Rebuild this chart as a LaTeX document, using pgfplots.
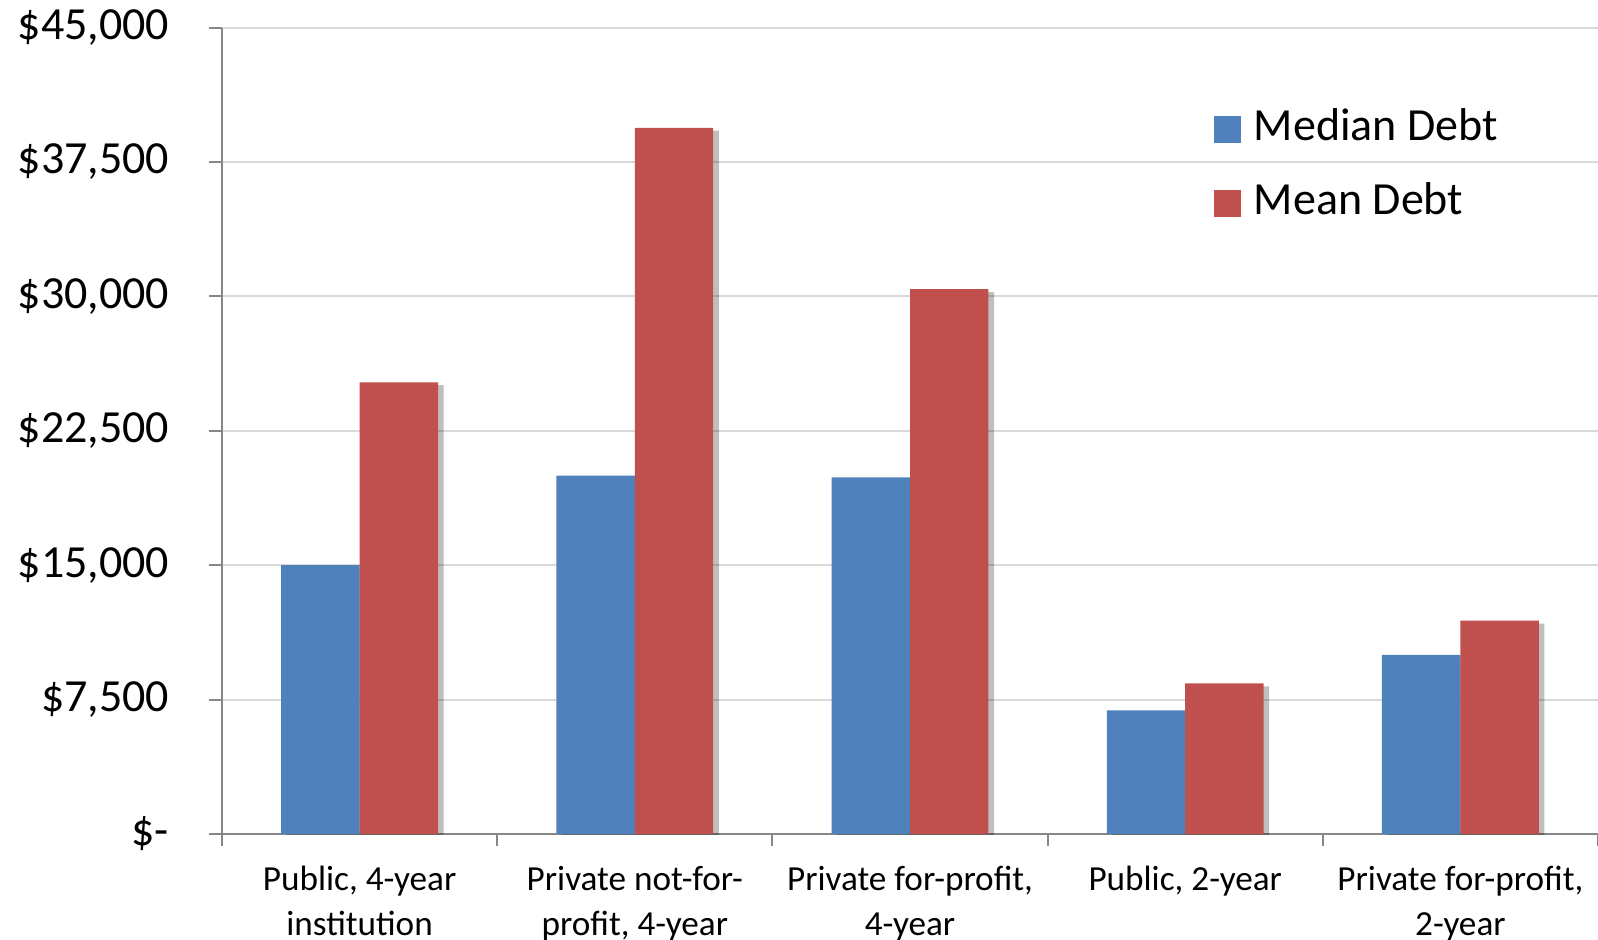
\documentclass[border=0pt]{standalone}
\usepackage{fontspec}
\setmainfont{Carlito}
\usepackage{pgfplots}
\pgfplotsset{compat=1.18}
\usetikzlibrary{shadows}
\definecolor{medblue}{HTML}{4F81BD}
\definecolor{meanred}{HTML}{C0504D}
\definecolor{axgray}{HTML}{868686}
\definecolor{gridgray}{HTML}{D9D9D9}
\begin{document}
\begin{tikzpicture}
\begin{axis}[
  name=ax,
  scale only axis, width=344pt, height=201.6pt,
  ybar, bar width=0.285,
  xmin=-0.5, xmax=4.5, ymin=0, ymax=45000,
  scaled y ticks=false,
  axis x line*=bottom, axis y line*=left,
  axis line style={axgray, line width=0.5pt},
  tick align=outside, major tick length=3.3pt, minor tick length=3pt,
  tick style={axgray, line width=0.5pt},
  xtick={0,...,4},
  major x tick style={draw=none},
  minor xtick={-0.5,0.5,1.5,2.5,3.5,4.5},
  xticklabels={{Public, 4-year\\institution},{Private not-for-\\profit, 4-year},{Private for-profit,\\4-year},{Public, 2-year},{Private for-profit,\\2-year}},
  xticklabel style={align=center, font=\fontsize{8.8}{11.2}\selectfont, yshift=-1.2pt},
  ytick={0,7500,...,45000},
  yticklabels={{\$-},{\$7,500},{\$15,000},{\$22,500},{\$30,000},{\$37,500},{\$45,000}},
  yticklabel style={font=\fontsize{11.5}{13}\selectfont, xshift=-6.4pt},
  ymajorgrids, grid style={gridgray, line width=0.5pt},
  legend style={at={(0.72,0.828)}, anchor=west, draw=none, fill=none,
    inner sep=0pt, column sep=3.3pt, row sep=8pt,
    font=\fontsize{11.5}{13}\selectfont,
    nodes={inner sep=0pt, text height=8pt, text depth=2.5pt}},
  legend cell align=left,
]
\addlegendimage{legend image code/.code={\fill[medblue] (0pt,-3.2pt) rectangle (6.4pt,3.2pt);}}
\addlegendentry{Median Debt}
\addlegendimage{legend image code/.code={\fill[meanred] (0pt,-3.2pt) rectangle (6.4pt,3.2pt);}}
\addlegendentry{Mean Debt}
\addplot[forget plot, fill=medblue, draw=none, bar shift=-0.1425,
  drop shadow={shadow xshift=1.4pt, shadow yshift=-0.7pt, opacity=0.25, fill=black}]
  coordinates {(0,15000) (1,20000) (2,19900) (3,6900) (4,10000)};
\addplot[forget plot, fill=meanred, draw=none, bar shift=0.1425,
  drop shadow={shadow xshift=1.4pt, shadow yshift=-0.7pt, opacity=0.25, fill=black}]
  coordinates {(0,25200) (1,39400) (2,30400) (3,8400) (4,11900)};
\end{axis}
\pgfresetboundingbox
\path[use as bounding box] ([xshift=-55.5pt, yshift=-26.25pt]ax.south west) rectangle ([yshift=6.9pt]ax.north east);
\end{tikzpicture}
\end{document}
